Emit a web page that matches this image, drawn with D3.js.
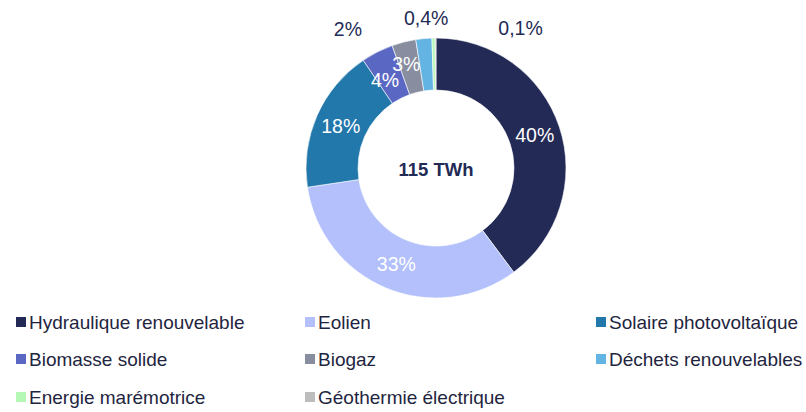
<!DOCTYPE html>
<html>
<head>
<meta charset="utf-8">
<script src="https://cdn.jsdelivr.net/npm/d3@7"></script>
<style>
  body { margin: 0; background: #fff; }
  #js_chart { width: 806px; height: 412px; }
  text { font-family: "Liberation Sans", Arial, sans-serif; }
</style>
</head>
<body>
<div id="js_chart"></div>
<script>
// data
const categories = ["Hydraulique renouvelable", "Eolien", "Solaire photovoltaïque",
    "Biomasse solide", "Biogaz", "Déchets renouvelables",
    "Energie marémotrice", "Géothermie électrique"];
const shares = [40, 33, 18, 4, 3, 2, 0.4, 0.1];
const shareLabels = ["40%", "33%", "18%", "4%", "3%", "2%", "0,4%", "0,1%"];
const colors = ["#232a55", "#b3c0fb", "#2277ab", "#5b68c3", "#888ea0", "#63b3e3", "#b5f7b5", "#bdbdbd"];
const centerLabel = "115 TWh";

// ******************************************************
// Settings
// ******************************************************
const width = 806, height = 412;
const cx = 436, cy = 168;
const outerR = 130, innerR = 78;
const ink = "#232a55";

// which labels sit outside the ring, and how far they are nudged
const outside = { 5: [-74, 10], 6: [-7, 0], 7: [85, 10] };

const svg = d3.select("#js_chart")
    .append("svg")
    .attr("width", width)
    .attr("height", height);

const pie = d3.pie().sort(null).value(function (d) { return d; });
const arcs = pie(shares);

const arc = d3.arc().innerRadius(innerR).outerRadius(outerR);
const labelArc = d3.arc().innerRadius(104).outerRadius(104);
const outerArc = d3.arc().innerRadius(150).outerRadius(150);

const g = svg.append("g").attr("transform", "translate(" + cx + "," + cy + ")");

g.selectAll("path")
    .data(arcs)
    .enter()
    .append("path")
    .attr("d", arc)
    .attr("fill", function (d, i) { return colors[i]; })
    .attr("stroke", "#fff")
    .attr("stroke-width", 0.6);

// small nudges for the crowded inner labels
const innerShift = { 3: [-4, 5], 4: [-4, -3] };

g.selectAll("text.pct")
    .data(arcs)
    .enter()
    .append("text")
    .attr("class", "pct")
    .attr("text-anchor", "middle")
    .attr("dominant-baseline", "central")
    .attr("font-size", 19.5)
    .attr("fill", function (d, i) { return outside[i] ? ink : "#fff"; })
    .attr("transform", function (d, i) {
        let p;
        if (outside[i]) {
            p = outerArc.centroid(d);
            p = [p[0] + outside[i][0], p[1] + outside[i][1]];
        } else {
            p = labelArc.centroid(d);
            if (innerShift[i]) p = [p[0] + innerShift[i][0], p[1] + innerShift[i][1]];
        }
        return "translate(" + p[0] + "," + p[1] + ")";
    })
    .text(function (d, i) { return shareLabels[i]; });

g.append("text")
    .attr("text-anchor", "middle")
    .attr("dominant-baseline", "central")
    .attr("font-size", 18.5)
    .attr("font-weight", "bold")
    .attr("fill", ink)
    .attr("y", 1)
    .text(centerLabel);

// ******************************************************
// Legend
// ******************************************************
const colX = [16, 305, 596];
const rowY = [322, 359, 397];

const legend = svg.append("g")
    .selectAll("g")
    .data(categories)
    .enter()
    .append("g")
    .attr("transform", function (d, i) {
        return "translate(" + colX[i % 3] + "," + rowY[Math.floor(i / 3)] + ")";
    });

legend.append("rect")
    .attr("x", 0)
    .attr("y", -5)
    .attr("width", 10)
    .attr("height", 10)
    .attr("fill", function (d, i) { return colors[i]; });

legend.append("text")
    .attr("x", 13)
    .attr("dominant-baseline", "central")
    .attr("font-size", 19)
    .attr("fill", "#1f2540")
    .text(function (d) { return d; });
</script>
</body>
</html>
